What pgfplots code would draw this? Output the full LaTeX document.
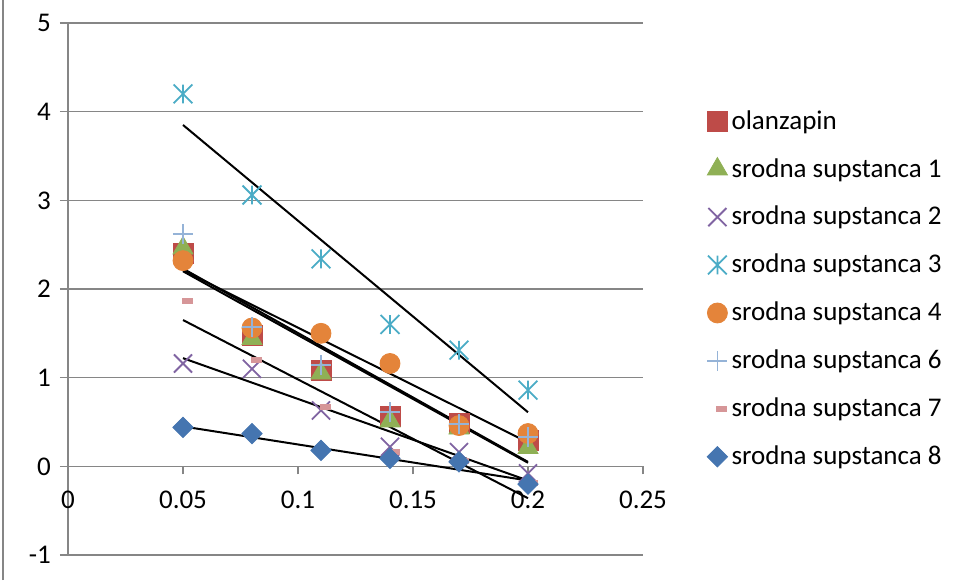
\documentclass[border=0pt]{standalone}
\usepackage{fontspec}
\setmainfont{Carlito}
\usepackage{pgfplots}
\pgfplotsset{compat=1.18}
\definecolor{gridc}{RGB}{134,134,134}
\definecolor{colA}{RGB}{190,75,72}
\definecolor{colB}{RGB}{143,176,85}
\definecolor{colC}{RGB}{128,100,162}
\definecolor{colD}{RGB}{75,172,198}
\definecolor{colE}{RGB}{228,132,58}
\definecolor{colF}{RGB}{149,179,215}
\definecolor{colG}{RGB}{214,150,152}
\definecolor{colH}{RGB}{69,117,176}
\pgfdeclareplotmark{xstar}{%
  \pgfpathmoveto{\pgfqpoint{0pt}{\pgfplotmarksize}}%
  \pgfpathlineto{\pgfqpoint{0pt}{-\pgfplotmarksize}}%
  \pgfpathmoveto{\pgfqpoint{-\pgfplotmarksize}{-\pgfplotmarksize}}%
  \pgfpathlineto{\pgfqpoint{\pgfplotmarksize}{\pgfplotmarksize}}%
  \pgfpathmoveto{\pgfqpoint{-\pgfplotmarksize}{\pgfplotmarksize}}%
  \pgfpathlineto{\pgfqpoint{\pgfplotmarksize}{-\pgfplotmarksize}}%
  \pgfusepathqstroke}
\begin{document}
\begin{tikzpicture}[font=\fontsize{13.5}{16}\selectfont]
\begin{axis}[
  scale only axis, width=287.5pt, height=266pt,
  at={(0,0)}, anchor=south west,
  xmin=0, xmax=0.25, ymin=-1, ymax=5,
  axis x line=middle, axis y line=left,
  hide obscured x ticks=false,
  axis line style={-, draw=gridc, line width=0.75pt},
  xtick={0,0.05,0.1,0.15,0.2,0.25},
  xticklabels={0,0.05,0.1,0.15,0.2,0.25},
  xticklabel style={yshift=-5pt},
  ytick={-1,0,1,2,3,4,5},
  yticklabels={-1,0,1,2,3,4,5},
  yticklabel style={xshift=-1pt},
  ymajorgrids, grid style={draw=gridc, line width=0.75pt},
  tick style={draw=gridc, line width=0.75pt},
  tick align=outside, major tick length=4pt,
  legend style={at={(axis description cs:1.111,0.5)}, anchor=west, draw=none, fill=none,
    inner sep=0pt, row sep=9.1pt, cells={anchor=west}},
  legend image code/.code={\draw[#1] plot coordinates {(5pt,0pt)};},
]
\addplot[only marks, mark=square*, mark size=5pt, color=colA] coordinates {
 (0.05,2.40) (0.08,1.48) (0.11,1.08) (0.14,0.56) (0.17,0.48) (0.2,0.29)};
\addlegendentry{olanzapin}
\addplot[only marks, mark=triangle*, mark size=5.8pt, color=colB] coordinates {
 (0.05,2.46) (0.08,1.44) (0.11,1.05) (0.14,0.51) (0.17,0.43) (0.2,0.21)};
\addlegendentry{srodna supstanca 1}
\addplot[only marks, mark=x, mark size=6.4pt, color=colC, mark options={line width=0.9pt}] coordinates {
 (0.05,1.16) (0.08,1.10) (0.11,0.63) (0.14,0.22) (0.17,0.16) (0.2,-0.08)};
\addlegendentry{srodna supstanca 2}
\addplot[only marks, mark=xstar, mark size=4.7pt, color=colD, mark options={line width=0.9pt}] coordinates {
 (0.05,4.20) (0.08,3.06) (0.11,2.34) (0.14,1.60) (0.17,1.31) (0.2,0.86)};
\addlegendentry{srodna supstanca 3}
\addplot[only marks, mark=*, mark size=5pt, color=colE] coordinates {
 (0.05,2.32) (0.08,1.56) (0.11,1.50) (0.14,1.16) (0.17,0.46) (0.2,0.37)};
\addlegendentry{srodna supstanca 4}
\addplot[only marks, mark=+, mark size=5pt, color=colF, mark options={line width=0.9pt}] coordinates {
 (0.05,2.62) (0.08,1.57) (0.11,1.14) (0.14,0.61) (0.17,0.48) (0.2,0.33)};
\addlegendentry{srodna supstanca 6}
\addplot[only marks, mark=square*, mark size=2.5pt, color=colG, mark options={yscale=0.5, xshift=2pt}] coordinates {
 (0.05,1.87) (0.08,1.20) (0.11,0.67) (0.14,0.16) (0.17,0.06) (0.2,-0.19)};
\addlegendentry{srodna supstanca 7}
\addplot[only marks, mark=square*, mark size=3.6pt, color=colH, mark options={rotate=45}] coordinates {
 (0.05,0.44) (0.08,0.37) (0.11,0.18) (0.14,0.09) (0.17,0.05) (0.2,-0.20)};
\addlegendentry{srodna supstanca 8}
% linear trend lines
\addplot[black, line width=1pt, forget plot] coordinates {(0.05,3.85) (0.2,0.61)};
\addplot[black, line width=1pt, forget plot] coordinates {(0.05,2.21) (0.2,0.27)};
\addplot[black, line width=1pt, forget plot] coordinates {(0.05,2.23) (0.2,0.05)};
\addplot[black, line width=1pt, forget plot] coordinates {(0.05,2.20) (0.2,0.04)};
\addplot[black, line width=1pt, forget plot] coordinates {(0.05,1.65) (0.2,-0.36)};
\addplot[black, line width=1pt, forget plot] coordinates {(0.05,1.22) (0.2,-0.16)};
\addplot[black, line width=1pt, forget plot] coordinates {(0.05,0.45) (0.2,-0.16)};
\end{axis}
\draw[gridc, line width=1pt] (-32.3pt,-12.5pt) -- (-32.3pt,277.5pt);
\pgfresetboundingbox
\useasboundingbox (-34pt,-12.5pt) rectangle (446pt,277.5pt);
\end{tikzpicture}
\end{document}
